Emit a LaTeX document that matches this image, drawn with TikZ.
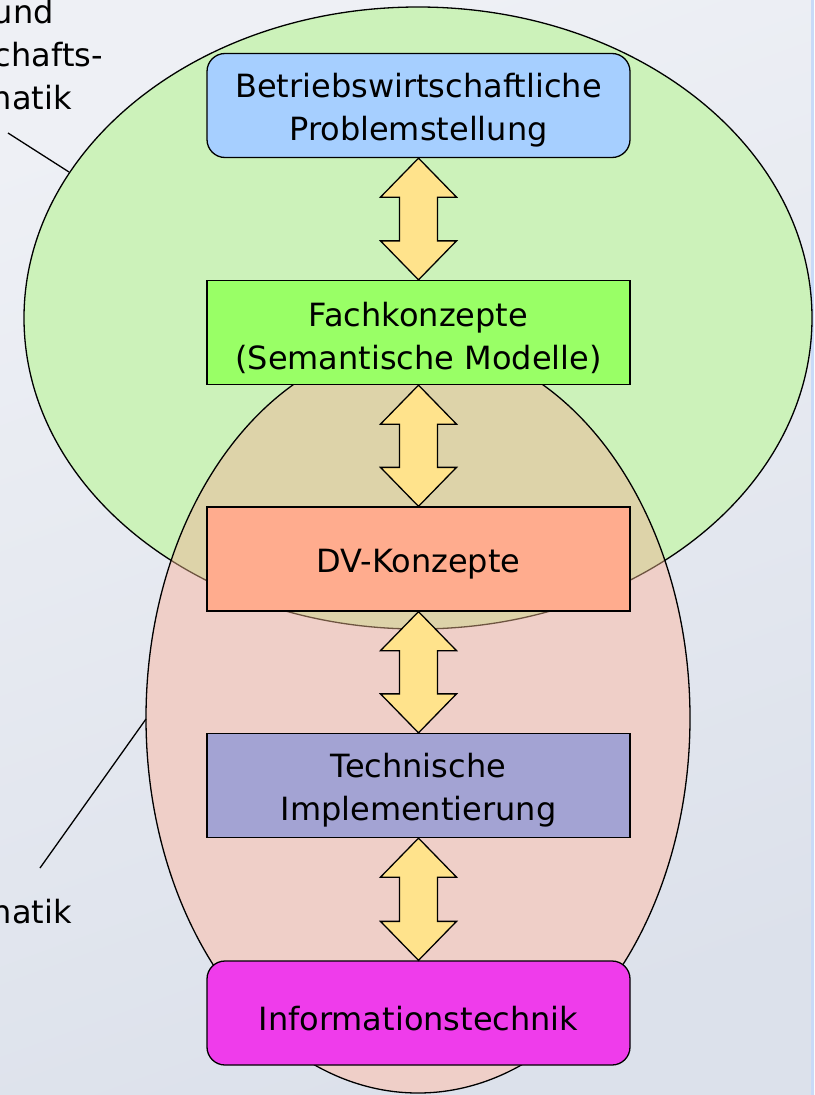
\documentclass[tikz,border=0pt]{standalone}
\usepackage{fontspec}
\setmainfont{DejaVu Sans}
\usetikzlibrary{calc}

\definecolor{bgtop}{RGB}{238,240,245}
\definecolor{bgbottom}{RGB}{220,225,235}
\definecolor{stripblue}{RGB}{200,218,248}
\definecolor{bwlgreen}{RGB}{204,242,186}
\definecolor{infopink}{RGB}{239,207,200}
\definecolor{overlapsand}{RGB}{221,211,169}
\definecolor{seamline}{RGB}{110,85,65}
\definecolor{problemblue}{RGB}{166,207,255}
\definecolor{fachgreen}{RGB}{153,255,102}
\definecolor{dvsalmon}{RGB}{255,172,142}
\definecolor{techviolet}{RGB}{163,163,211}
\definecolor{itmagenta}{RGB}{239,60,235}
\definecolor{arrowyellow}{RGB}{255,227,140}

% strut that pushes the box text a little down
\newcommand{\levelstrut}{\rule{0pt}{34.5pt}}

\tikzset{
	levelbox/.style={draw=black, line width=1.3pt, minimum width=423pt, minimum height=104pt,
		align=center, inner sep=0pt, font=\fontsize{32}{43}\selectfont},
	roundbox/.style={levelbox, rounded corners=18pt},
	dblarrow/.style={draw=black, line width=1.3pt, fill=arrowyellow, line join=miter},
	sidelabel/.style={font=\fontsize{32}{43}\selectfont, inner sep=0pt},
	leader/.style={draw=black, line width=1.3pt},
}

\begin{document}
\begin{tikzpicture}[x=1pt, y=-1pt]
	\useasboundingbox (0,0) rectangle (814,1095);

	% Background
	\shade[top color=bgtop, bottom color=bgbottom, shading angle=20]
		(0,0) rectangle (814,1095);
	\fill[stripblue] (811,0) rectangle (814,1095);

	% Ellipses and their overlap
	\fill[bwlgreen] (418,318) ellipse [x radius=394, y radius=311];
	\draw[line width=1.3pt] (418,318) ellipse [x radius=394, y radius=311];
	\fill[infopink] (418,718) ellipse [x radius=272, y radius=375];
	\begin{scope}
		\clip (418,718) ellipse [x radius=272, y radius=375];
		\fill[overlapsand] (418,318) ellipse [x radius=394, y radius=311];
		\draw[seamline, line width=1.3pt] (418,318) ellipse [x radius=394, y radius=311];
	\end{scope}
	\draw[line width=1.3pt] (418,718) ellipse [x radius=272, y radius=375];

	% Side labels
	\node[sidelabel, anchor=base east] (und) at (54,23) {und};
	\node[sidelabel, anchor=base east] (chafts) at (103,66) {chafts-};
	\node[sidelabel, anchor=base east] (natiktop) at (72,109) {natik};
	\node[sidelabel, anchor=base east] (natikbottom) at (72,923) {natik};

	\coordinate (leadtop) at (8,133);
	\coordinate (greenrim) at (69,172);
	\coordinate (leadbottom) at (40,868);
	\coordinate (pinkrim) at (146,719);
	\draw[leader] (leadtop) -- (greenrim);
	\draw[leader] (leadbottom) -- (pinkrim);

	% Levels
	\node[roundbox, fill=problemblue] (problem) at (418.5,105.5) {\levelstrut Betriebswirtschaftliche\\Problemstellung};
	\node[levelbox, fill=fachgreen] (fach) at (418.5,332.5) {\levelstrut Fachkonzepte\\(Semantische Modelle)};
	\node[levelbox, fill=dvsalmon] (dv) at (418.5,559) {\levelstrut DV-Konzepte};
	\node[levelbox, fill=techviolet] (technik) at (418.5,785.5) {\levelstrut Technische\\Implementierung};
	\node[roundbox, fill=itmagenta] (it) at (418.5,1013) {\levelstrut Informationstechnik};

	% Double arrows between levels
	\foreach \hi/\lo in {problem/fach, fach/dv, dv/technik, technik/it}
		\draw[dblarrow] (\hi.south) -- ++(38,39) -- ++(-19,0)
			-- ($(\lo.north)+(19,-39)$) -- ++(19,0) -- (\lo.north)
			-- ++(-38,-39) -- ++(19,0)
			-- ($(\hi.south)+(-19,39)$) -- ++(-19,0) -- cycle;
\end{tikzpicture}
\end{document}
